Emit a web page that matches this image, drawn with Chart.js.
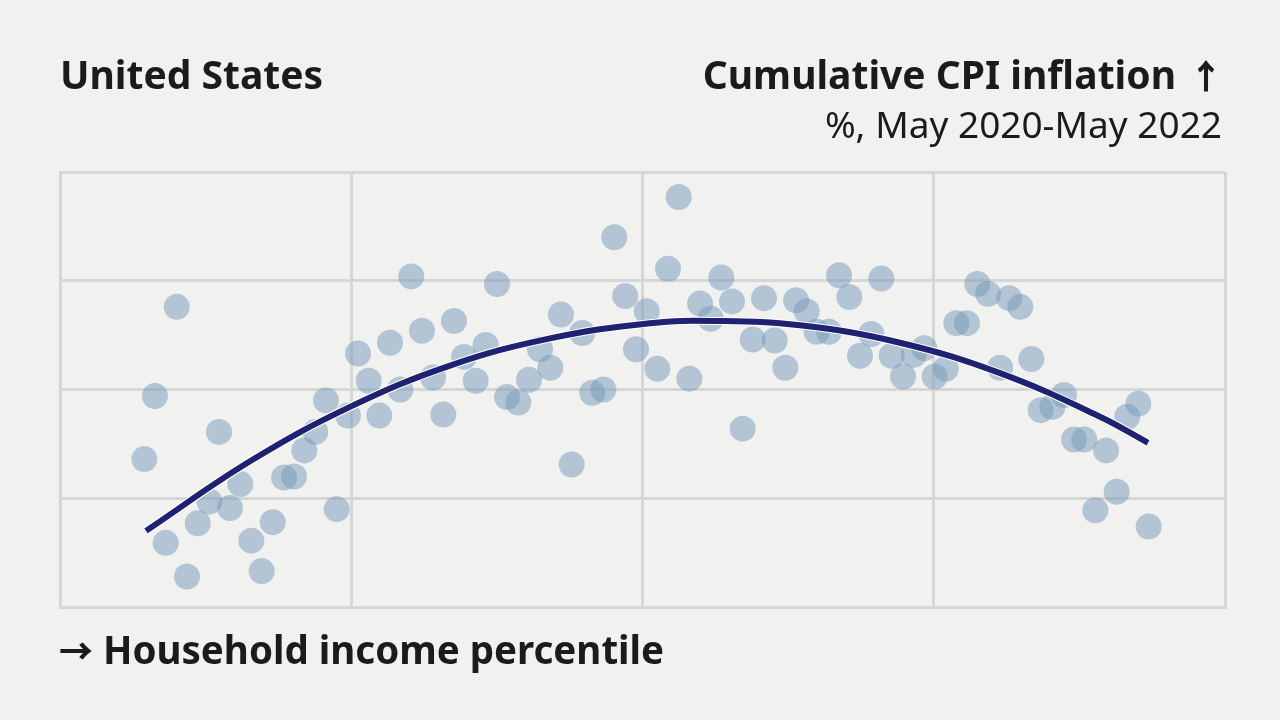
<!DOCTYPE html>
<html>
<head>
<meta charset="utf-8">
<script src="https://cdn.jsdelivr.net/npm/chart.js@4.4.1/dist/chart.umd.min.js"></script>
<style>
    html, body { margin: 0; padding: 0; background: #f1f1ef; }
    #wrap { position: relative; width: 1280px; height: 720px; overflow: hidden; font-family: "Noto Sans", sans-serif; color: #1b1b1b; }
    #chart { position: absolute; left: 0; top: 0; }
    .lbl { position: absolute; line-height: 1; white-space: nowrap; }
    .arr { font-family: "Noto Sans CJK SC", "DejaVu Sans", sans-serif; font-weight: 900; font-size: 34px; }
    #ytitle .arr { margin-left: 13px; }
    #xtitle .arr { margin-right: 10px; }
    #title { left: 60px; top: 54px; font-size: 39px; font-weight: 700; }
    #ytitle { right: 57px; top: 54px; font-size: 39px; font-weight: 700; }
    #ysub { right: 58px; top: 105px; font-size: 37px; font-weight: 400; }
    #xtitle { left: 59px; top: 630px; font-size: 38.5px; font-weight: 700; }
</style>
</head>
<body>
<div id="wrap">
    <canvas id="chart" width="1280" height="720"></canvas>
    <div class="lbl" id="title">United States</div>
    <div class="lbl" id="ytitle">Cumulative CPI inflation<span class="arr">↑</span></div>
    <div class="lbl" id="ysub">%, May 2020-May 2022</div>
    <div class="lbl" id="xtitle"><span class="arr">→</span>Household income percentile</div>
</div>
<script>
// Scatter: household income percentile vs cumulative CPI inflation
const incomePct = [
    7.24, 8.15, 9.07, 10.02, 10.90, 11.82, 12.82, 13.65, 14.59, 15.48,
    16.42, 17.31, 18.26, 19.23, 20.09, 20.97, 21.91, 22.83, 23.75, 24.72,
    25.58, 26.50, 27.41, 28.33, 29.21, 30.15, 31.07, 32.02, 32.90, 33.82,
    34.68, 35.68, 36.54, 37.51, 38.37, 39.34, 40.26, 41.20, 42.09, 43.00,
    43.92, 44.83, 45.69, 46.64, 47.58, 48.52, 49.44, 50.36, 51.27, 52.19,
    53.11, 54.02, 54.94, 55.85, 56.76, 57.68, 58.60, 59.46, 60.43, 61.35,
    62.26, 63.18, 64.09, 64.95, 66.01, 66.87, 67.75, 68.67, 69.64, 70.50,
    71.39, 72.36, 73.28, 74.19, 75.08, 76.03, 76.94, 77.85, 78.74, 79.66,
    80.69, 81.48, 82.43, 83.37, 84.18, 85.18, 86.18, 87.04, 87.92, 88.87,
    89.79, 90.70, 91.61, 92.56, 93.45
];
const inflation = [
    13.36, 13.94, 12.59, 14.76, 12.28, 12.77, 12.97, 13.61, 12.91, 13.13,
    12.61, 12.33, 12.78, 13.19, 13.20, 13.44, 13.61, 13.90, 12.90, 13.76,
    14.33, 14.08, 13.76, 14.43, 14.00, 15.04, 14.54, 14.11, 13.77, 14.63,
    14.30, 14.08, 14.41, 14.97, 13.93, 13.88, 14.09, 14.37, 14.20, 14.69,
    13.31, 14.52, 13.97, 14.00, 15.40, 14.86, 14.37, 14.72, 14.19, 15.11,
    15.77, 14.10, 14.79, 14.65, 15.03, 14.81, 13.64, 14.46, 14.84, 14.45,
    14.20, 14.82, 14.72, 14.53, 14.53, 15.05, 14.85, 14.31, 14.51, 15.02,
    14.31, 14.12, 14.32, 14.38, 14.12, 14.19, 14.61, 14.61, 14.97, 14.88,
    14.20, 14.84, 14.76, 14.28, 13.81, 13.84, 13.95, 13.54, 13.54, 12.89,
    13.44, 13.06, 13.75, 13.87, 12.74
];

// Fitted curve, points
const fitPct       = [7.38, 16.31, 24.89, 33.48, 42.06, 50.64, 56.22, 63.52, 72.10, 80.69, 89.27, 93.39];
const fitInflation = [12.70, 13.34, 13.84, 14.22, 14.47, 14.61, 14.63, 14.59, 14.43, 14.15, 13.75, 13.51];

// Axis extents and gridline spacing (no tick labels are shown)
const xMin = 0, xMax = 100, xStep = 25;
const yMin = 12, yMax = 16, yStep = 1;

const toPoints = (xs, ys) => xs.map((x, i) => ({ x, y: ys[i] }));

const gridColor = "#d6d6d4";

new Chart(document.getElementById("chart"), {
    type: "scatter",
    data: {
        datasets: [
            {
                label: "Fit",
                data: toPoints(fitPct, fitInflation),
                showLine: true,
                borderColor: "#1e2270",
                borderWidth: 6,
                borderCapStyle: "butt",
                pointRadius: 0,
                tension: 0.4,
                order: 0,
            },
            {
                label: "Fit halo",
                data: toPoints(fitPct, fitInflation),
                showLine: true,
                borderColor: "#ffffff",
                borderWidth: 8,
                borderCapStyle: "butt",
                pointRadius: 0,
                tension: 0.4,
                order: 1,
            },
            {
                label: "Households",
                data: toPoints(incomePct, inflation),
                pointRadius: 13,
                pointHoverRadius: 13,
                pointBackgroundColor: "rgba(118, 152, 186, 0.5)",
                pointBorderWidth: 0,
                order: 2,
            },
        ],
    },
    options: {
        responsive: false,
        animation: false,
        events: [],
        layout: { padding: { left: 60, right: 55, top: 172, bottom: 113 } },
        plugins: {
            legend: { display: false },
            tooltip: { enabled: false },
        },
        scales: {
            x: {
                type: "linear",
                min: xMin, max: xMax,
                ticks: { display: false, stepSize: xStep },
                grid: { color: gridColor, lineWidth: 3, drawTicks: false },
                border: { display: true, color: gridColor, width: 3 },
                afterFit: s => { s.height = 0; },
            },
            y: {
                type: "linear",
                min: yMin, max: yMax,
                ticks: { display: false, stepSize: yStep },
                grid: { color: gridColor, lineWidth: 3, drawTicks: false },
                border: { display: true, color: gridColor, width: 3 },
                afterFit: s => { s.width = 0; },
            },
        },
    },
});
</script>
</body>
</html>
